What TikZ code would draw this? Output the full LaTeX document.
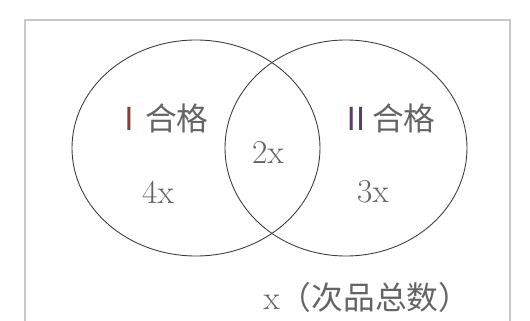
\documentclass[tikz,border=0pt]{standalone}
\usepackage{fontspec}
\newfontfamily\cjk{Noto Sans CJK SC}[Scale=0.95]
\usepackage{xcolor}
\usetikzlibrary{positioning}
\definecolor{framecol}{RGB}{200,200,200}
\definecolor{ringcol}{RGB}{60,60,60}
\definecolor{textcol}{RGB}{100,100,100}
\definecolor{onecol}{RGB}{140,60,50}
\definecolor{twocol}{RGB}{90,60,110}
\tikzset{
  x=0.2mm, y=-0.2mm,
  ring/.style={draw=ringcol, line width=0.5pt},
  lbl/.style={inner sep=1pt, text=textcol, font=\fontsize{19}{22}\selectfont},
}

\begin{document}
\begin{tikzpicture}
\useasboundingbox (0,0) rectangle (530,321);

% ---------- frame ----------
\draw[framecol, line width=0.6pt] (25,330) |- (510,20) -- (510,330);

% ---------- sets ----------
\draw[ring] (196,148) ellipse [x radius=124, y radius=108];
\draw[ring] (346,148) ellipse [x radius=121, y radius=108];

% ---------- labels ----------
\node[lbl] (pa)  at (161,118) {\cjk{\textcolor{onecol}{Ⅰ}合格}};
\node[lbl] (pb)  at (388,118) {\cjk{\textcolor{twocol}{Ⅱ}合格}};
\node[lbl] (both) at (268,152) {2x};
\node[lbl] (ona) at (158,192) {4x};
\node[lbl] (onb) at (373,192) {3x};
\node[lbl] (tot) at (367,297) {x\cjk{（次品总数）}};

\end{tikzpicture}
\end{document}
